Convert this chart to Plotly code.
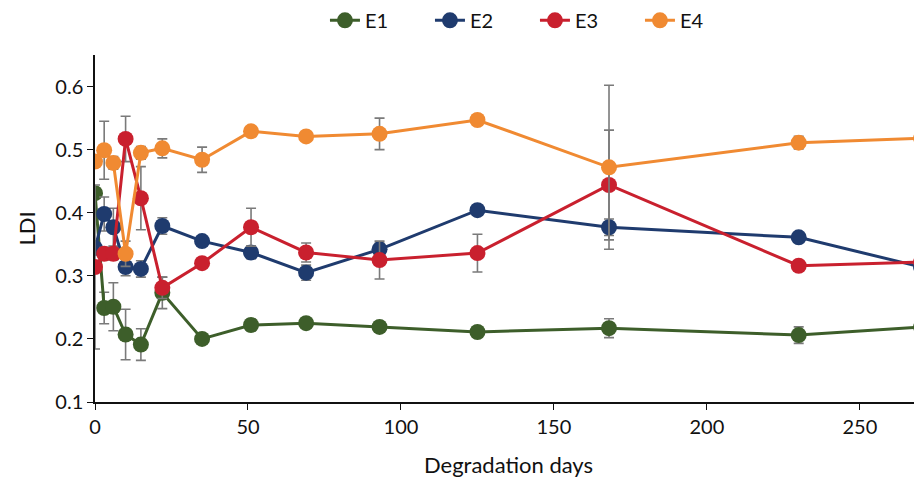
import plotly.graph_objects as go

days = [0, 3, 6, 10, 15, 22, 35, 51, 69, 93, 125, 168, 230, 270]

e1 = [0.431, 0.249, 0.251, 0.207, 0.191, 0.273, 0.200, 0.222, 0.225, 0.219, 0.211, 0.217, 0.206, 0.219]
e2 = [0.344, 0.398, 0.377, 0.314, 0.311, 0.379, 0.355, 0.337, 0.305, 0.342, 0.404, 0.377, 0.361, 0.314]
e3 = [0.314, 0.335, 0.335, 0.517, 0.423, 0.281, 0.320, 0.377, 0.337, 0.325, 0.336, 0.444, 0.316, 0.322]
e4 = [0.481, 0.499, 0.479, 0.335, 0.495, 0.502, 0.484, 0.529, 0.521, 0.525, 0.547, 0.472, 0.511, 0.518]

e1_err = [0.0, 0.025, 0.038, 0.040, 0.025, 0.025, 0.005, 0.009, 0.008, 0.005, 0.004, 0.015, 0.013, 0.005]
e2_err = [0.0, 0.027, 0.030, 0.014, 0.013, 0.013, 0.006, 0.010, 0.012, 0.010, 0.008, 0.013, 0.005, 0.010]
e3_err = [0.130, 0.010, 0.010, 0.036, 0.050, 0.017, 0.005, 0.030, 0.015, 0.030, 0.030, 0.087, 0.005, 0.008]
e4_err = [0.0, 0.046, 0.010, 0.020, 0.010, 0.015, 0.020, 0.005, 0.005, 0.025, 0.004, 0.130, 0.010, 0.005]

names = ["E1", "E2", "E3", "E4"]
colors = ["#3d5e2a", "#1f3b6e", "#c9202e", "#f08a32"]
series = [e1, e2, e3, e4]
errors = [e1_err, e2_err, e3_err, e4_err]

fig = go.Figure()
for name, col, ys, errs in zip(names, colors, series, errors):
    fig.add_trace(go.Scatter(
        x=days, y=ys, name=name, mode="lines+markers",
        line=dict(color=col, width=3),
        marker=dict(color=col, size=16),
        error_y=dict(type="data", array=errs, visible=True,
                     color="#7a7a7a", thickness=1.6, width=5),
    ))

font_family = "Lato, Open Sans, sans-serif"
fig.update_layout(
    width=914, height=475,
    margin=dict(l=87, r=0, t=47, b=81, autoexpand=False),
    paper_bgcolor="white", plot_bgcolor="white",
    font=dict(family=font_family, size=20, color="#111"),
    showlegend=True,
    legend=dict(orientation="h", x=0.532, xanchor="center", y=1.10, yanchor="middle",
                font=dict(size=20), entrywidth=60, entrywidthmode="pixels",
                traceorder="normal"),
    xaxis=dict(range=[0, 270.3], tickvals=[0, 50, 100, 150, 200, 250],
               automargin=False,
               showline=True, linecolor="#111", linewidth=1.5,
               ticks="outside", ticklen=6, tickcolor="#111",
               showgrid=False, zeroline=False,
               title=dict(text="Degradation days", font=dict(size=22), standoff=21)),
    yaxis=dict(range=[0.1, 0.65], tickvals=[0.1, 0.2, 0.3, 0.4, 0.5, 0.6],
               tickformat=".1f", automargin=False,
               showline=True, linecolor="#111", linewidth=1.5,
               ticks="outside", ticklen=6, tickcolor="#111",
               showgrid=False, zeroline=False,
               title=dict(text="LDI", font=dict(size=22), standoff=14)),
)

fig.write_html("out.html")
